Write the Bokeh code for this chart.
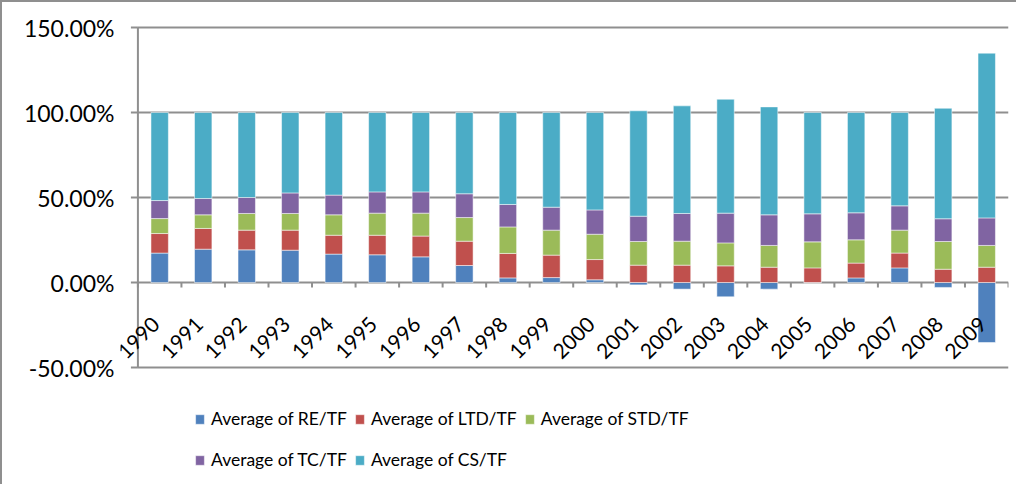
import numpy as np
from bokeh.plotting import figure
from bokeh.models import (Range1d, FixedTicker, PrintfTickFormatter, Legend,
                          LegendItem, ColumnDataSource)
from bokeh.embed import file_html
from bokeh.resources import INLINE
from bokeh.core.properties import value

years = [str(y) for y in range(1990, 2010)]
re_tf = [17.3, 19.6, 19.2, 19.0, 16.7, 16.3, 15.1, 10.0, 2.7, 2.9,
         1.6, -1.4, -3.9, -8.4, -3.9, -0.3, 2.7, 8.6, -2.9, -35.3]
ltd_tf = [11.5, 12.2, 11.6, 11.8, 11.1, 11.5, 12.2, 14.3, 14.4, 13.2,
          11.9, 10.2, 10.2, 9.8, 9.0, 8.6, 8.7, 8.7, 7.8, 9.0]
std_tf = [8.8, 8.0, 9.8, 9.8, 12.0, 13.0, 13.5, 13.9, 15.6, 14.7,
          14.9, 13.9, 14.1, 13.5, 12.8, 15.3, 13.7, 13.5, 16.3, 12.8]
tc_tf = [10.6, 9.6, 9.4, 12.1, 11.6, 12.5, 12.5, 14.0, 13.2, 13.5,
         14.3, 14.9, 16.3, 17.5, 18.0, 16.5, 15.9, 14.3, 13.4, 16.2]
cs_tf = [51.8, 50.6, 50.0, 47.3, 48.6, 46.7, 46.7, 47.8, 54.1, 55.7,
         57.3, 62.0, 63.3, 67.0, 63.5, 59.6, 59.0, 54.9, 65.0, 96.9]

series_names = ["Average of RE/TF", "Average of LTD/TF", "Average of STD/TF",
                "Average of TC/TF", "Average of CS/TF"]
colors = ["#4F81BD", "#C0504D", "#9BBB59", "#8064A2", "#4BACC6"]
y_ticks = [-50, 0, 50, 100, 150]
y_min, y_max = -50, 150

FONT = "Lato"
GRID = "#8f8f8f"

n = len(years)
xc = np.arange(n) + 0.5
re = np.array(re_tf, dtype=float)

# stacked: negatives go below zero, positives stack from zero
bottoms, tops = [], []
re_top = np.maximum(re, 0)
bottoms.append(np.minimum(re, 0))
tops.append(re_top)
base = re_top.copy()
for vals in (ltd_tf, std_tf, tc_tf, cs_tf):
    v = np.array(vals, dtype=float)
    bottoms.append(base.copy())
    base = base + v
    tops.append(base.copy())

# layout (pixels)
H, W = 484, 1016
TOP, LEFT, RIGHT = 22, 118, 10
PX_PER_UNIT = 1.7
X_PAD = 0.4                       # room left of the axis for the first label
y_end = y_max + 3 / PX_PER_UNIT
y_start = y_end - (H - TOP) / PX_PER_UNIT
px_per_cat = (W - LEFT - RIGHT) / (n + X_PAD)

p = figure(width=W, height=H, output_backend="svg", toolbar_location=None,
           x_range=Range1d(-X_PAD, n), y_range=Range1d(y_start, y_end),
           x_axis_location=None, min_border_left=LEFT, min_border_right=RIGHT,
           min_border_top=TOP, min_border_bottom=0)
p.outline_line_color = None
p.background_fill_color = "white"
p.border_fill_color = "white"
p.xgrid.visible = False
p.ygrid.visible = False

yax = p.yaxis[0]
yax.ticker = FixedTicker(ticks=y_ticks)
yax.formatter = PrintfTickFormatter(format="%.2f%%")
yax.axis_line_color = None
yax.major_tick_line_color = None
yax.major_tick_out = 0
yax.major_tick_in = 0
yax.minor_tick_line_color = None
yax.major_label_text_font = FONT
yax.major_label_text_font_size = "23px"
yax.major_label_text_color = "#000000"
yax.major_label_standoff = 6

yt = np.array(y_ticks, dtype=float)
# horizontal gridlines from the axis to the right edge
p.segment(x0=np.zeros(len(yt)), y0=yt, x1=np.full(len(yt), n), y1=yt,
          line_color=GRID, line_width=2)
# y tick marks (outside, 7px)
tick_len = 7 / px_per_cat
p.segment(x0=np.full(len(yt), -tick_len), y0=yt, x1=np.zeros(len(yt)), y1=yt,
          line_color=GRID, line_width=2)
# vertical axis line between -50% and 150%
p.segment(x0=[0], y0=[y_min], x1=[0], y1=[y_max], line_color=GRID, line_width=2)

items = []
for i, name in enumerate(series_names):
    src = ColumnDataSource(dict(x=xc, bottom=bottoms[i], top=tops[i]))
    r = p.vbar(x="x", bottom="bottom", top="top", width=0.4, source=src,
               fill_color=colors[i], line_color="white", line_alpha=0.5,
               line_width=1)
    items.append(LegendItem(label=name, renderers=[r]))

# category tick marks along the zero line
edges = np.arange(n + 1)
p.segment(x0=edges, y0=np.zeros(n + 1), x1=edges, y1=np.full(n + 1, -5 / PX_PER_UNIT),
          line_color=GRID, line_width=2)

# rotated year labels
p.text(x=xc, y=np.zeros(n), text=years, angle=np.pi / 4,
       text_align="right", text_baseline="middle", y_offset=38, x_offset=-4,
       text_font=value(FONT), text_font_size="21px", text_color="#000000")


def make_legend(its, loc):
    lg = Legend(items=its, orientation="horizontal", location=loc)
    lg.border_line_color = None
    lg.background_fill_alpha = 0
    lg.padding = 0
    lg.margin = 0
    lg.spacing = 7
    lg.glyph_width = 11
    lg.glyph_height = 12
    lg.label_standoff = 6
    lg.label_text_font = FONT
    lg.label_text_font_size = "17.5px"
    lg.label_text_color = "#000000"
    lg.label_height = 20
    return lg


legend_x = round(202 - (8 + 2 + LEFT))
p.add_layout(make_legend(items[:3], (legend_x, 57)), "center")
p.add_layout(make_legend(items[3:], (legend_x, 16)), "center")

p.styles = {"border-left": "2px solid #8f8f8f", "border-top": "2px solid #8f8f8f"}

open("out.html", "w").write(file_html(p, INLINE))
